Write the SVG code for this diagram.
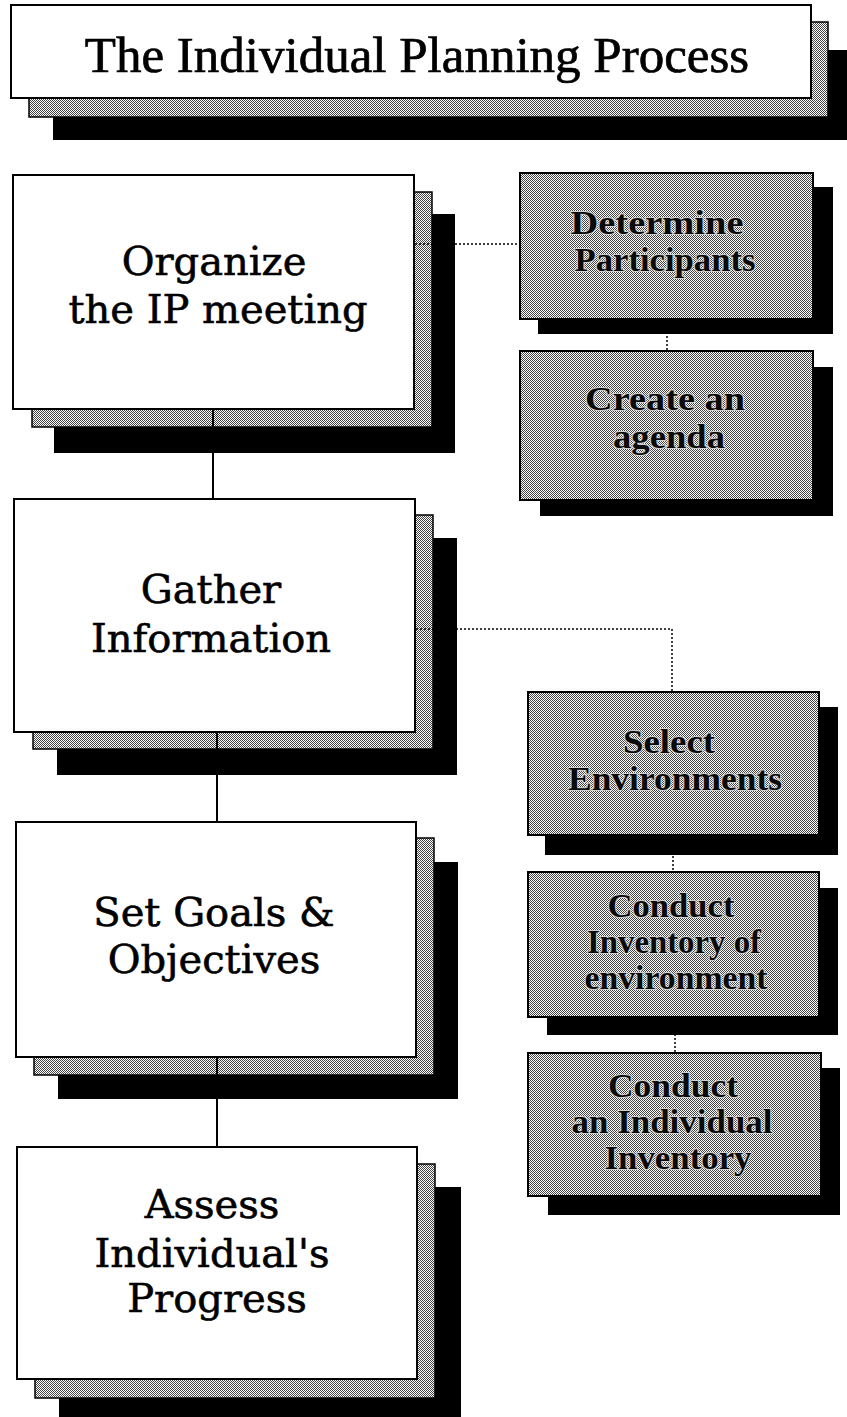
<svg xmlns="http://www.w3.org/2000/svg" width="847" height="1417" viewBox="0 0 847 1417">
<defs>
<pattern id="ht" x="0" y="0" width="2" height="2" patternUnits="userSpaceOnUse">
<rect width="2" height="2" fill="#ffffff"/>
<rect x="0" y="0" width="1" height="1" fill="#444444"/>
<rect x="1" y="1" width="1" height="1" fill="#444444"/>
</pattern>
</defs>
<style>
.sh{fill:#000}
.band{fill:url(#ht);stroke:#000;stroke-width:1.5}
.card{fill:#fff;stroke:#000;stroke-width:2}
.gbox{fill:url(#ht);stroke:#000;stroke-width:2}
.main{font-family:"DejaVu Serif","Liberation Serif",serif;font-size:40px;fill:#000;stroke:#000;stroke-width:0.6;text-anchor:middle}
.title{font-family:"Liberation Serif","DejaVu Serif",serif;font-size:51px;fill:#000;stroke:#000;stroke-width:0.7;text-anchor:middle}
.sub{font-family:"Liberation Serif","DejaVu Serif",serif;font-weight:bold;font-size:34px;fill:#0a0a0a;text-anchor:middle;stroke:#cfcfcf;stroke-width:2;paint-order:stroke}
.solid{stroke:#000;stroke-width:2;fill:none}
.dot{stroke:#000;stroke-width:1.5;fill:none;stroke-dasharray:2 2}
</style>

<g id="title">
<rect class="sh" x="53" y="50" width="794" height="90"/>
<rect class="band" x="29" y="22" width="799" height="95"/>
<rect class="card" x="11" y="5" width="800" height="93"/>
<text class="title" x="417" y="72">The Individual Planning Process</text>
</g>

<g id="organize">
<rect class="sh" x="54" y="214" width="401" height="239"/>
<rect class="band" x="32" y="192" width="400" height="235"/>
<rect class="card" x="13" y="175" width="401" height="234"/>
<text class="main" x="214" y="275">Organize</text>
<text class="main" x="218" y="323">the IP meeting</text>
</g>

<g id="gather">
<rect class="sh" x="57" y="538" width="400" height="237"/>
<rect class="band" x="33" y="515" width="400" height="234"/>
<rect class="card" x="14" y="499" width="401" height="233"/>
<text class="main" x="211" y="603">Gather</text>
<text class="main" x="211" y="652">Information</text>
</g>

<g id="goals">
<rect class="sh" x="58" y="862" width="400" height="237"/>
<rect class="band" x="34" y="838" width="400" height="237"/>
<rect class="card" x="16" y="822" width="400" height="235"/>
<text class="main" x="214" y="926">Set Goals &amp;</text>
<text class="main" x="214" y="973">Objectives</text>
</g>

<g id="assess">
<rect class="sh" x="59" y="1187" width="402" height="230"/>
<rect class="band" x="35" y="1164" width="400" height="234"/>
<rect class="card" x="17" y="1147" width="400" height="232"/>
<text class="main" x="212" y="1218">Assess</text>
<text class="main" x="212" y="1267">Individual's</text>
<text class="main" x="217" y="1312">Progress</text>
</g>

<g id="participants">
<rect class="sh" x="538" y="187" width="295" height="147"/>
<rect class="gbox" x="520" y="173" width="293" height="146"/>
<text class="sub" x="657" y="234" textLength="173" lengthAdjust="spacingAndGlyphs">Determine</text>
<text class="sub" x="665" y="271" textLength="181" lengthAdjust="spacingAndGlyphs">Participants</text>
</g>

<g id="agenda">
<rect class="sh" x="540" y="367" width="293" height="149"/>
<rect class="gbox" x="520" y="351" width="293" height="149"/>
<text class="sub" x="665" y="410" textLength="160" lengthAdjust="spacingAndGlyphs">Create an</text>
<text class="sub" x="669" y="448" textLength="112" lengthAdjust="spacingAndGlyphs">agenda</text>
</g>

<g id="environments">
<rect class="sh" x="545" y="707" width="293" height="148"/>
<rect class="gbox" x="528" y="692" width="291" height="143"/>
<text class="sub" x="669" y="753" textLength="92" lengthAdjust="spacingAndGlyphs">Select</text>
<text class="sub" x="675" y="790" textLength="214" lengthAdjust="spacingAndGlyphs">Environments</text>
</g>

<g id="inventory-env">
<rect class="sh" x="547" y="888" width="291" height="147"/>
<rect class="gbox" x="528" y="872" width="291" height="145"/>
<text class="sub" x="671" y="917" textLength="127" lengthAdjust="spacingAndGlyphs">Conduct</text>
<text class="sub" x="674" y="953" textLength="174" lengthAdjust="spacingAndGlyphs">Inventory of</text>
<text class="sub" x="676" y="989" textLength="183" lengthAdjust="spacingAndGlyphs">environment</text>
</g>

<g id="inventory-ind">
<rect class="sh" x="548" y="1068" width="292" height="147"/>
<rect class="gbox" x="528" y="1053" width="293" height="143"/>
<text class="sub" x="673" y="1097" textLength="130" lengthAdjust="spacingAndGlyphs">Conduct</text>
<text class="sub" x="672" y="1133" textLength="201" lengthAdjust="spacingAndGlyphs">an Individual</text>
<text class="sub" x="678" y="1169" textLength="147" lengthAdjust="spacingAndGlyphs">Inventory</text>
</g>

<g id="connectors">
<line class="solid" x1="213" y1="410" x2="213" y2="499"/>
<line class="solid" x1="217" y1="733" x2="217" y2="822"/>
<line class="solid" x1="217" y1="1058" x2="217" y2="1147"/>
<line class="dot" x1="415" y1="244" x2="520" y2="244"/>
<polyline class="dot" points="416,629 672,629 672,692"/>
<line class="dot" x1="667" y1="320" x2="667" y2="351"/>
<line class="dot" x1="673" y1="836" x2="673" y2="872"/>
<line class="dot" x1="675" y1="1018" x2="675" y2="1053"/>
</g>
</svg>
